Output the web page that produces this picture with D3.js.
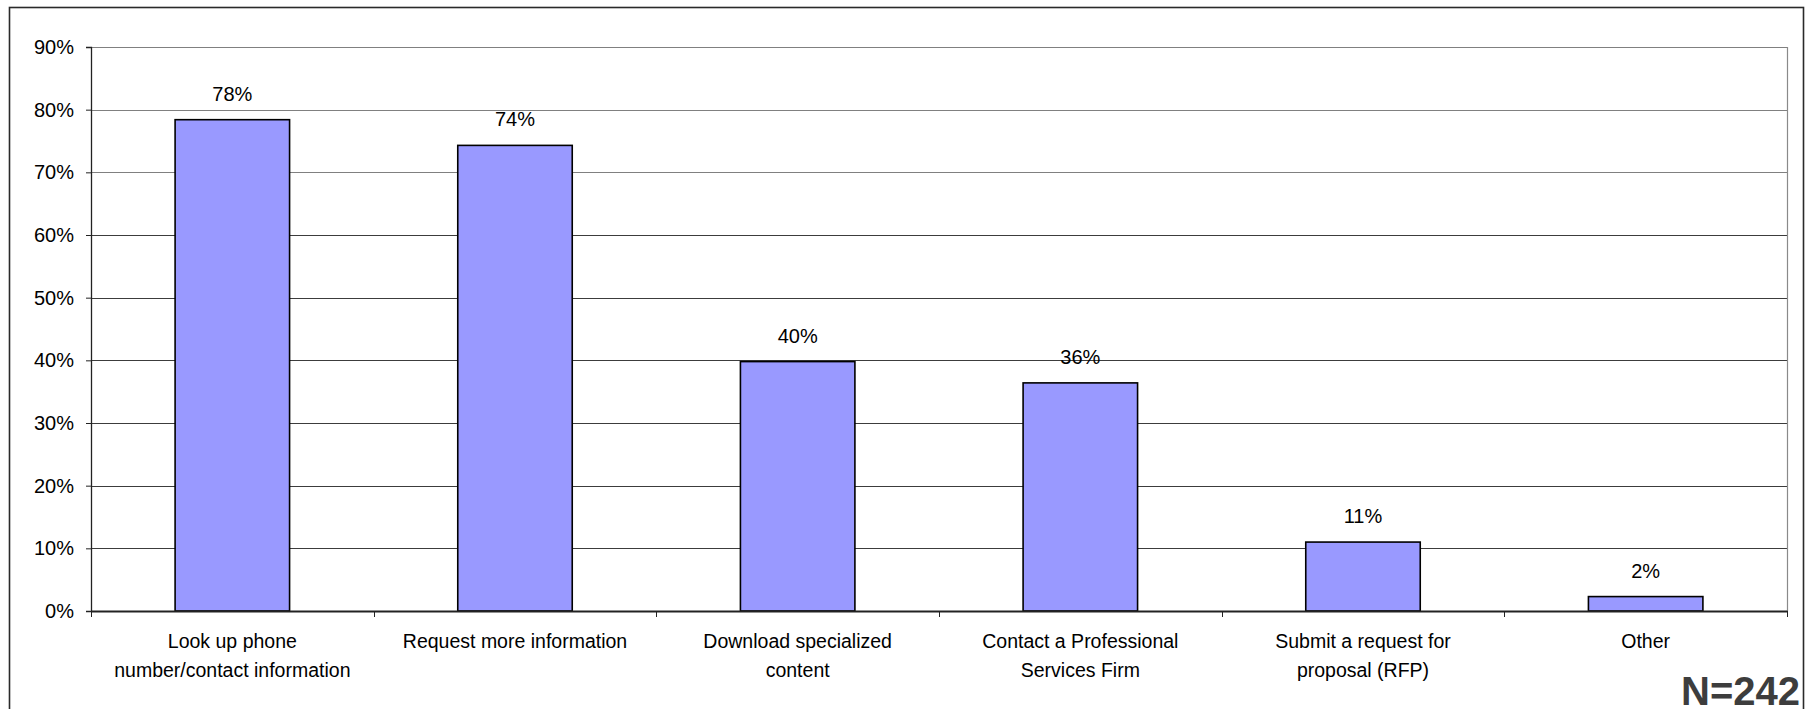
<!DOCTYPE html>
<html>
<head>
<meta charset="utf-8">
<script src="https://cdn.jsdelivr.net/npm/d3@7/dist/d3.min.js"></script>
<style>
  html, body { margin: 0; padding: 0; background: #fff; }
  svg { display: block; }
  text { font-family: "Liberation Sans", Arial, sans-serif; }
</style>
</head>
<body>
<svg id="chart" width="1806" height="709"></svg>
<script>
const categories = [
  "Look up phone number/contact information",
  "Request more information",
  "Download specialized content",
  "Contact a Professional Services Firm",
  "Submit a request for proposal (RFP)",
  "Other"
];
const categoryLines = [
  ["Look up phone", "number/contact information"],
  ["Request more information"],
  ["Download specialized", "content"],
  ["Contact a Professional", "Services Firm"],
  ["Submit a request for", "proposal (RFP)"],
  ["Other"]
];
const values = [0.784, 0.743, 0.398, 0.364, 0.110, 0.023];
const yTicks = [0, 0.1, 0.2, 0.3, 0.4, 0.5, 0.6, 0.7, 0.8, 0.9];
const note = "N=242";

(function () {
const svg = d3.select("#chart");
const pLeft = 91, pRight = 1787, pTop = 47, pBottom = 611;

// outer frame
svg.append("rect")
  .attr("x", 9.5).attr("y", 7.5)
  .attr("width", 1794).attr("height", 730)
  .attr("fill", "#fff").attr("stroke", "#2a2a2a").attr("stroke-width", 1.6);

const x = d3.scaleBand().domain(categories).range([pLeft, pRight])
  .paddingInner(0.595).paddingOuter(0.2975);
const xCat = d3.scaleBand().domain(categories).range([pLeft, pRight]).padding(0);
const y = d3.scaleLinear().domain([0, 0.9]).range([pBottom, pTop]);

// gridlines
svg.append("g").selectAll("line").data(yTicks.filter(t => t > 0)).join("line")
  .attr("x1", pLeft).attr("x2", pRight)
  .attr("y1", d => Math.round(y(d)) + 0.5).attr("y2", d => Math.round(y(d)) + 0.5)
  .attr("stroke", d => d >= 0.7 ? "#808080" : "#3c3c3c").attr("stroke-width", 1);

// plot area right border
svg.append("line").attr("x1", pRight + 0.5).attr("x2", pRight + 0.5)
  .attr("y1", pTop).attr("y2", pBottom).attr("stroke", "#8a8a8a").attr("stroke-width", 1.2);

// bars
svg.append("g").selectAll("rect").data(values).join("rect")
  .attr("x", (d, i) => x(categories[i]))
  .attr("width", x.bandwidth())
  .attr("y", d => y(d))
  .attr("height", d => y(0) - y(d))
  .attr("fill", "#9999ff").attr("stroke", "#000").attr("stroke-width", 1.6);

// data labels
svg.append("g").selectAll("text").data(values).join("text")
  .attr("x", (d, i) => x(categories[i]) + x.bandwidth() / 2)
  .attr("y", d => y(d) - 19)
  .attr("text-anchor", "middle")
  .attr("font-size", 20)
  .attr("fill", "#000")
  .text(d => Math.round(d * 100) + "%");

// y axis
const yAxis = svg.append("g").attr("transform", `translate(${pLeft},0)`)
  .call(d3.axisLeft(y).tickValues(yTicks).tickFormat(d3.format(".0%")).tickSize(5).tickPadding(12));
yAxis.select(".domain").attr("stroke", "#222").attr("stroke-width", 1.3);
yAxis.selectAll(".tick line").attr("stroke", "#222");
yAxis.selectAll(".tick text").attr("font-size", 20).attr("fill", "#000")
  .attr("font-family", "'Liberation Sans', Arial, sans-serif");

// x axis
const xAxis = svg.append("g").attr("transform", `translate(0,${pBottom})`)
  .call(d3.axisBottom(xCat).tickSize(0).tickFormat(""));
xAxis.select(".domain").attr("stroke", "#222").attr("stroke-width", 1.8);
xAxis.selectAll(".tick").remove();
// boundary tick marks
const bounds = categories.map(c => xCat(c)).concat([pRight]);
svg.append("g").selectAll("line").data(bounds).join("line")
  .attr("x1", d => Math.round(d) + 0.5).attr("x2", d => Math.round(d) + 0.5)
  .attr("y1", pBottom).attr("y2", pBottom + 6)
  .attr("stroke", "#222").attr("stroke-width", 1);

// category labels
const lab = svg.append("g").selectAll("text").data(categoryLines).join("text")
  .attr("text-anchor", "middle")
  .attr("font-size", 19.5)
  .attr("fill", "#000")
  .attr("transform", (d, i) => `translate(${xCat(categories[i]) + xCat.bandwidth() / 2},648)`);
lab.selectAll("tspan").data(d => d).join("tspan")
  .attr("x", 0).attr("y", (d, i) => i * 29)
  .text(d => d);

// N note
svg.append("text")
  .attr("x", 1800).attr("y", 705)
  .attr("text-anchor", "end")
  .attr("font-size", 40).attr("font-weight", "bold")
  .attr("fill", "#3d3d3d")
  .text(note);
})();
</script>
</body>
</html>
